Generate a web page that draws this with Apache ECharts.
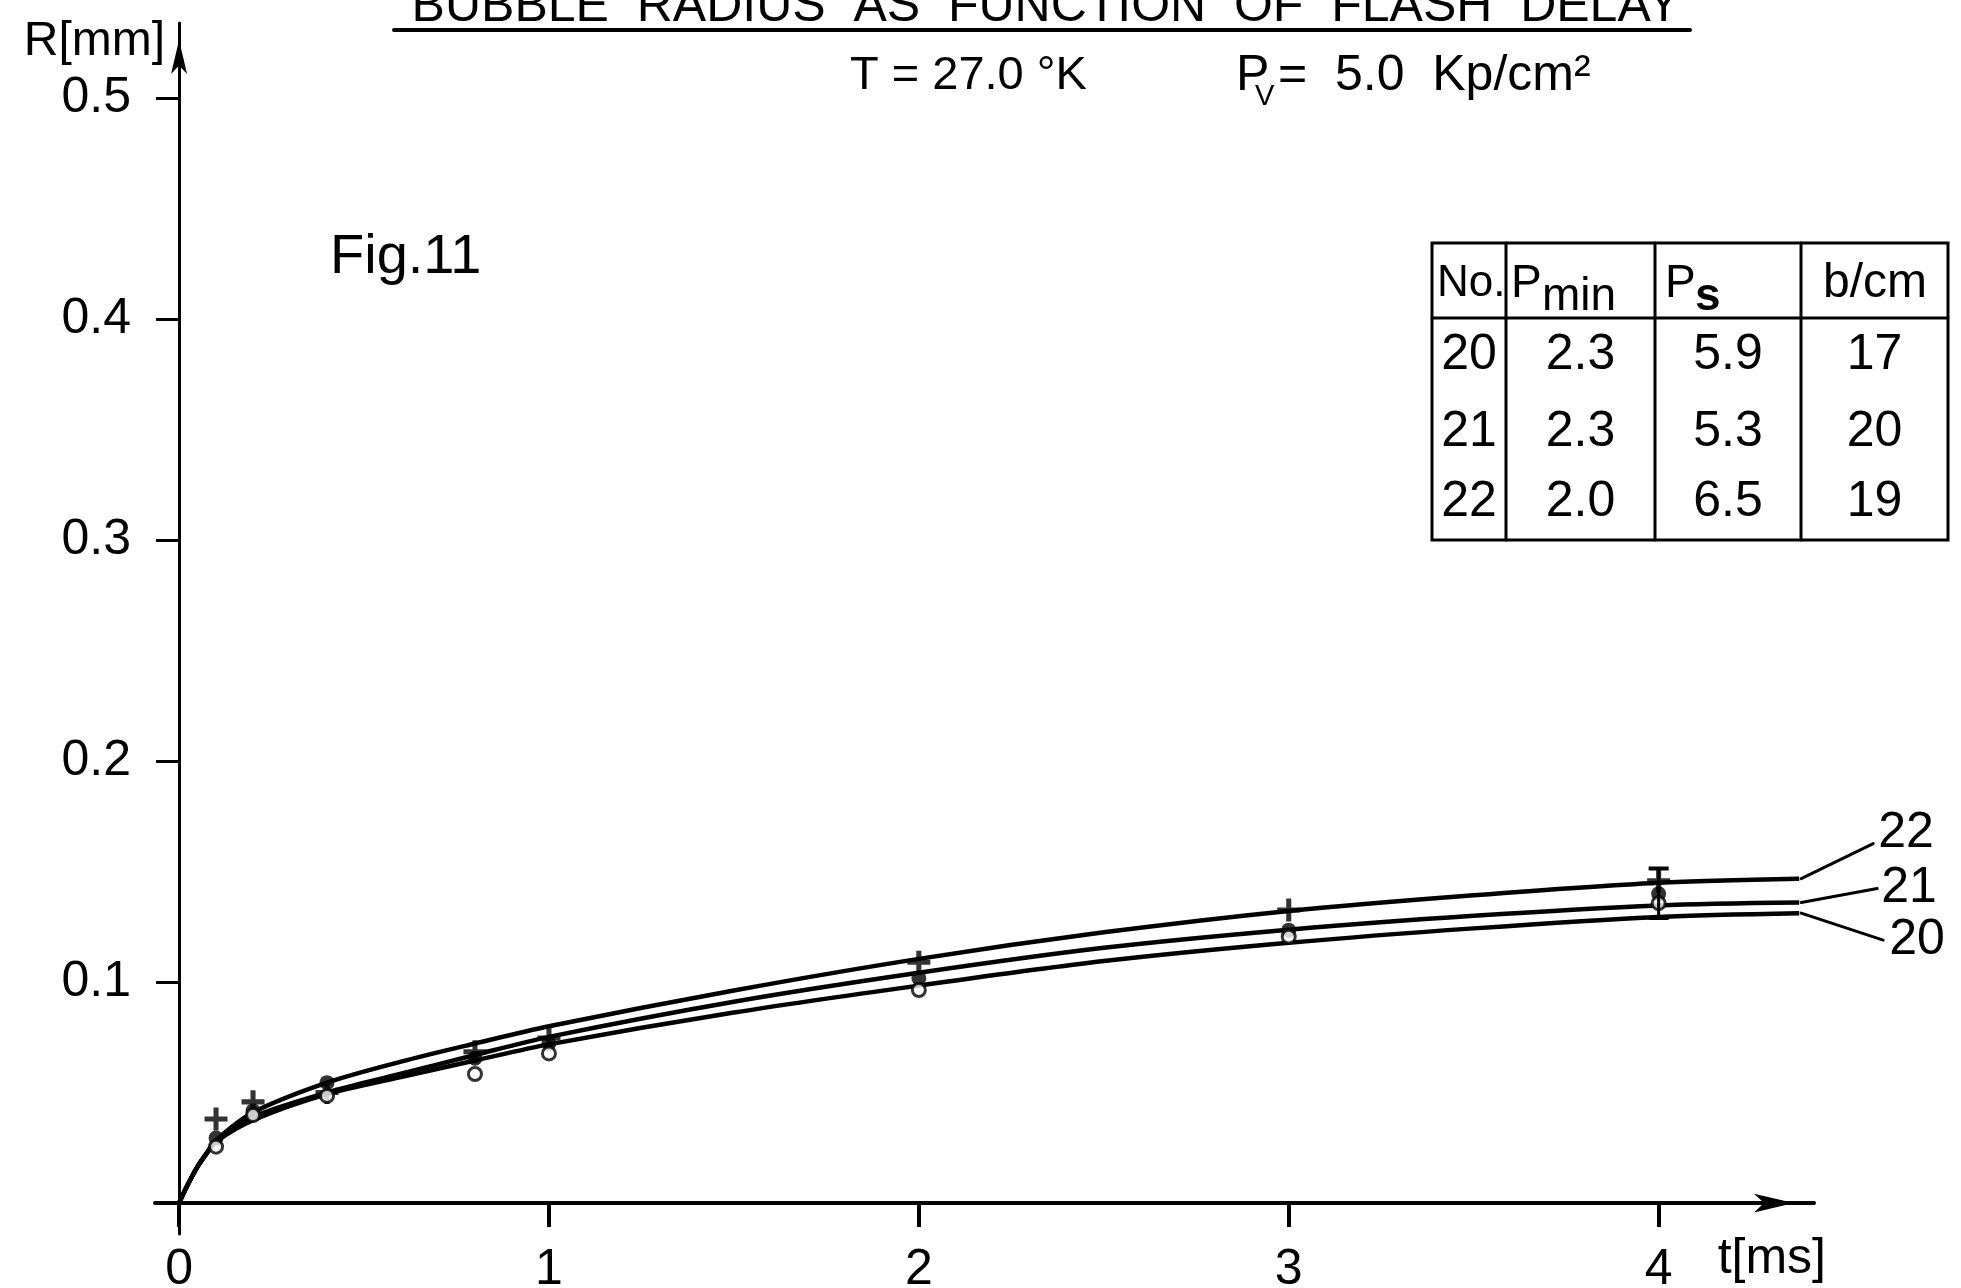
<!DOCTYPE html>
<html><head><meta charset="utf-8">
<script src="https://cdn.jsdelivr.net/npm/echarts@6/dist/echarts.min.js"></script>
<style>html,body{margin:0;padding:0;background:#fff}#chart{width:1961px;height:1288px}</style>
</head><body><div id="chart"></div>
<script>
// ---------- data ----------
const tCurve  = [0, 0.02, 0.05, 0.075, 0.1, 0.2, 0.4, 0.6, 0.8, 1.0, 1.5, 2.0, 2.5, 3.0, 3.5, 4.0, 4.38];
const curve22 = [0, 0.0072, 0.0165, 0.0226, 0.0285, 0.0410, 0.0545, 0.0640, 0.0722, 0.0800, 0.0962, 0.1105, 0.1225, 0.1322, 0.1393, 0.1450, 0.1468];
const curve21 = [0, 0.0072, 0.0165, 0.0226, 0.0282, 0.0390, 0.0500, 0.0585, 0.0670, 0.0752, 0.0911, 0.1042, 0.1155, 0.1237, 0.1300, 0.1347, 0.1360];
const curve20 = [0, 0.0072, 0.0165, 0.0226, 0.0278, 0.0375, 0.0493, 0.0570, 0.0645, 0.0718, 0.0862, 0.0984, 0.1095, 0.1178, 0.1243, 0.1295, 0.1312];

const tPoints  = [0.1, 0.2, 0.4, 0.8, 1.0, 2.0, 3.0, 4.0];
const points22 = [0.0380, 0.0458, 0.0500, 0.0685, 0.0747, 0.1090, 0.1326, 0.1458];
const points21 = [0.0294, 0.0418, 0.0545, 0.0655, 0.0722, 0.1018, 0.1235, 0.1400];
const points20 = [0.0255, 0.0398, 0.0485, 0.0584, 0.0677, 0.0964, 0.1205, 0.1357];

const errT = [4.0];
const errLow = [0.1290];
const errHigh = [0.1514];

const xTicks = [0, 1, 2, 3, 4];
const yTicks = [0.1, 0.2, 0.3, 0.4, 0.5];
const curveNames = ['22', '21', '20'];

const tableNo   = ['20', '21', '22'];
const tablePmin = ['2.3', '2.3', '2.0'];
const tablePs   = ['5.9', '5.3', '6.5'];
const tableBcm  = ['17', '20', '19'];

const titleText = 'BUBBLE  RADIUS  AS  FUNCTION  OF  FLASH  DELAY';
const figText = 'Fig.11';
const tempText = 'T = 27.0 °K';

// ---------- helpers ----------
const FONT = "'Liberation Sans', Arial, sans-serif";
const zip = (ts, vs) => ts.map((t, i) => [t, vs[i]]);
const CROSS = 'path://M-2.2,-10H2.2V10H-2.2Z M-10,-2.2H10V2.2H-10Z';
let gid = 0;
function txt(x, y, text, size, align, valign, weight) {
  return {
    type: 'text', id: 'g' + (gid++), x: x, y: y, z: 20,
    style: {
      text: text, fill: '#000', font: (weight ? weight + ' ' : '') + size + 'px ' + FONT,
      align: align, verticalAlign: valign, textAlign: align, textVerticalAlign: valign
    }
  };
}
function ln(x1, y1, x2, y2, w) {
  return { type: 'line', id: 'g' + (gid++), z: 20,
    shape: { x1: x1, y1: y1, x2: x2, y2: y2 },
    style: { stroke: '#000', lineWidth: w, lineCap: 'round' } };
}

// ---------- static annotations ----------
const graphics = [];
graphics.push(txt(1046, 32, titleText, 50, 'center', 'bottom'));
graphics.push(ln(394, 30, 1690, 30, 4));
graphics.push(txt(850, 76, tempText, 47, 'left', 'middle'));
graphics.push(txt(1236, 76, 'P', 50, 'left', 'middle'));
graphics.push(txt(1255, 97, 'V', 29, 'left', 'middle'));
graphics.push(txt(1278, 76, '=  5.0  Kp/cm²', 50, 'left', 'middle'));
graphics.push(txt(330, 258, figText, 56, 'left', 'middle'));

// table
const TL = 1432, TR = 1948, TT = 243, TB = 540, HB = 318;
const colX = [1506, 1655, 1801];
graphics.push({ type: 'rect', id: 'g' + (gid++), z: 20,
  shape: { x: TL, y: TT, width: TR - TL, height: TB - TT },
  style: { fill: 'none', stroke: '#000', lineWidth: 3 } });
graphics.push(ln(TL, HB, TR, HB, 3));
colX.forEach(x => graphics.push(ln(x, TT, x, TB, 3)));
graphics.push(txt(1437, 284, 'No.', 44, 'left', 'middle'));
graphics.push(txt(1511, 284, 'P', 46, 'left', 'middle'));
graphics.push(txt(1542, 297, 'min', 46, 'left', 'middle'));
graphics.push(txt(1665, 284, 'P', 46, 'left', 'middle'));
graphics.push(txt(1695, 297, 's', 46, 'left', 'middle', 'bold'));
graphics.push(txt(1875, 284, 'b/cm', 48, 'center', 'middle'));
const rowY = [355, 432, 502];
const colC = [(TL + colX[0]) / 2, (colX[0] + colX[1]) / 2, (colX[1] + colX[2]) / 2, (colX[2] + TR) / 2];
[tableNo, tablePmin, tablePs, tableBcm].forEach((col, ci) => {
  col.forEach((v, ri) => graphics.push(txt(colC[ci], rowY[ri], v, 50, 'center', 'middle')));
});

// ---------- chart ----------
const chart = echarts.init(document.getElementById('chart'), null, { renderer: 'canvas' });
const lineSeries = (name, data) => ({
  name: name, type: 'line', data: data, smooth: 0.3,
  showSymbol: false, symbol: 'none', clip: false, silent: true, z: 2,
  lineStyle: { color: '#000', width: 4.5 }
});
const option = {
  backgroundColor: '#fff',
  animation: false,
  grid: { left: 155, right: 147, top: 23, bottom: 54, containLabel: false, outerBoundsMode: 'none' },
  xAxis: {
    type: 'value', min: -0.065, max: 4.42,
    name: 't[ms]', nameLocation: 'end', nameGap: 12,
    nameTextStyle: { fontFamily: FONT, fontSize: 50, color: '#000', align: 'right', verticalAlign: 'top', padding: [31, 0, 0, 0] },
    axisLine: { show: true, onZero: true, lineStyle: { color: '#000', width: 4 },
      symbol: ['none', 'arrow'], symbolSize: [14, 40], symbolOffset: [0, -20] },
    axisTick: { show: true, inside: false, length: 24, lineStyle: { color: '#000', width: 4 }, customValues: xTicks },
    axisLabel: { show: true, margin: 11, fontFamily: FONT, fontSize: 50, color: '#000', customValues: xTicks,
      formatter: v => String(Math.round(v)) },
    splitLine: { show: false }
  },
  yAxis: {
    type: 'value', min: -0.014, max: 0.534,
    name: 'R[mm]', nameLocation: 'end', nameGap: -19,
    nameTextStyle: { fontFamily: FONT, fontSize: 48, color: '#000', align: 'right', verticalAlign: 'middle', padding: [0, 14, 0, 0] },
    axisLine: { show: true, onZero: true, lineStyle: { color: '#000', width: 3 },
      symbol: ['none', 'arrow'], symbolSize: [12, 34], symbolOffset: [0, -17] },
    axisTick: { show: true, inside: false, length: 23, lineStyle: { color: '#000', width: 3 }, customValues: yTicks },
    axisLabel: { show: true, margin: 24, fontFamily: FONT, fontSize: 50, color: '#000', customValues: yTicks,
      formatter: v => v.toFixed(1) },
    splitLine: { show: false }
  },
  series: [
    lineSeries('22', zip(tCurve, curve22)),
    lineSeries('21', zip(tCurve, curve21)),
    lineSeries('20', zip(tCurve, curve20)),
    { name: '22 pts', type: 'scatter', data: zip(tPoints, points22), symbol: CROSS, symbolSize: 23, z: 5,
      itemStyle: { color: '#000' }, silent: true },
    { name: '21 pts', type: 'scatter', data: zip(tPoints, points21), symbol: 'circle', symbolSize: 15, z: 5,
      itemStyle: { color: '#000' }, silent: true },
    { name: '20 pts', type: 'scatter', data: zip(tPoints, points20), symbol: 'circle', symbolSize: 13, z: 6,
      itemStyle: { color: '#fff', borderColor: '#000', borderWidth: 3 }, silent: true },
    { name: 'error', type: 'custom', z: 7, silent: true,
      data: errT.map((t, i) => [t, errLow[i], errHigh[i]]),
      encode: { x: 0, y: [1, 2] },
      renderItem: (params, api) => {
        const x = api.value(0);
        const lo = api.coord([x, api.value(1)]);
        const hi = api.coord([x, api.value(2)]);
        const w = 10;
        const st = { stroke: '#000', lineWidth: 4 };
        return { type: 'group', children: [
          { type: 'line', shape: { x1: lo[0], y1: lo[1], x2: hi[0], y2: hi[1] }, style: { stroke: '#000', lineWidth: 3 } },
          { type: 'line', shape: { x1: hi[0] - w, y1: hi[1], x2: hi[0] + w, y2: hi[1] }, style: st },
          { type: 'line', shape: { x1: lo[0] - w, y1: lo[1], x2: lo[0] + w, y2: lo[1] }, style: st }
        ] };
      }
    }
  ],
  graphic: { elements: graphics }
};
chart.setOption(option);

// curve-end labels with leader lines (anchored to each curve's last point)
const curvesForLabels = [curve22, curve21, curve20];
const leaderOffset = [[74, -35], [78, -14], [84, 27]];
const labelOffset = [[5, -10], [4, 0], [6, 0]];
const extra = [];
curvesForLabels.forEach((c, i) => {
  const p = chart.convertToPixel({ xAxisIndex: 0, yAxisIndex: 0 }, [tCurve[tCurve.length - 1], c[c.length - 1]]);
  const ex = p[0] + leaderOffset[i][0], ey = p[1] + leaderOffset[i][1];
  extra.push(ln(p[0] + 2, p[1], ex, ey, 3));
  extra.push(txt(ex + labelOffset[i][0], ey + labelOffset[i][1], curveNames[i], 50, 'left', 'middle'));
});
chart.setOption({ graphic: { elements: extra } });
</script>
</body></html>
